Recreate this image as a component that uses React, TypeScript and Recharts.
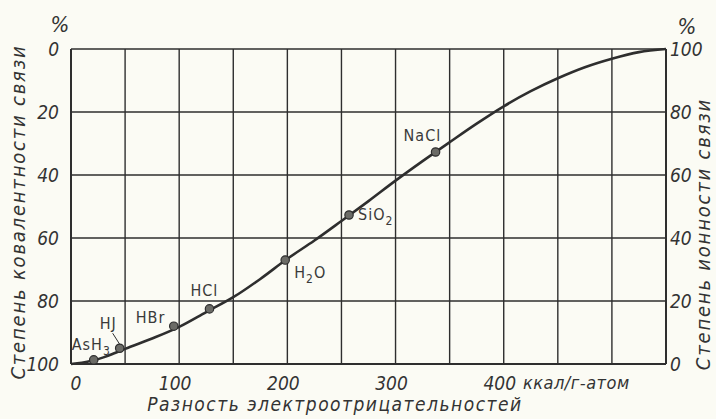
import React from 'react'
import {
  ComposedChart,
  Line,
  Scatter,
  XAxis,
  YAxis,
  CartesianGrid,
} from 'recharts'

// electronegativity difference, kcal/g-atom
const xTicks = [0, 50, 100, 150, 200, 250, 300, 350, 400, 450, 500, 550]
const xLabelTicks = [0, 100, 200, 300, 400]
const yTicks = [0, 20, 40, 60, 80, 100]

// curve: degree of covalent bond, % (left axis)
const curveX = [0, 10, 20, 30, 40, 50, 75, 100, 125, 150, 175, 200, 225, 250, 275, 300, 325, 350, 375, 400, 425, 450, 475, 500, 525, 550]
const curveY = [100, 99.6, 98.9, 97.9, 96.6, 95.2, 91.9, 88.2, 83.5, 78.8, 73, 66.6, 60.8, 54.6, 48.3, 41.8, 35.6, 29.6, 23.7, 18.2, 13.4, 9.3, 5.8, 3.1, 1, 0]

// measured compounds
const compounds = ['AsH3', 'HJ', 'HBr', 'HCl', 'H2O', 'SiO2', 'NaCl']
const compoundX = [21, 45, 95, 128, 198, 257, 337]
const compoundY = [98.7, 95, 88, 82.5, 67, 52.7, 32.7]

const curveData = curveX.map((x, i) => ({ x, y: curveY[i] }))
const pointData = compounds.map((name, i) => ({ name, x: compoundX[i], y: compoundY[i] }))

const ink = '#2e2e2e'
const font = '"DejaVu Sans Condensed", "DejaVu Sans", sans-serif'

// label placement relative to each dot (baseline of text)
const labelOffset: Record<string, { dx: number; dy: number }> = {
  AsH3: { dx: -22, dy: -10 },
  HJ: { dx: -20, dy: -19 },
  HBr: { dx: -38, dy: -3 },
  HCl: { dx: -19, dy: -13 },
  H2O: { dx: 9, dy: 18 },
  SiO2: { dx: 9, dy: 5 },
  NaCl: { dx: -32, dy: -11 },
}

function Formula({ name }: { name: string }) {
  const parts = name.match(/[A-Za-z]+|\d+/g) || []
  return (
    <>
      {parts.map((p, i) =>
        /\d/.test(p) ? (
          <tspan key={i} fontSize={12} dy={5}>{p}</tspan>
        ) : (
          <tspan key={i} dy={i > 0 ? -5 : 0}>{p}</tspan>
        )
      )}
    </>
  )
}

function CompoundDot(props: any) {
  const { cx, cy, payload } = props
  const off = labelOffset[payload.name] || { dx: 6, dy: -6 }
  return (
    <g>
      <circle cx={cx} cy={cy} r={4.2} fill="#6b6b66" stroke={ink} strokeWidth={1.2} />
      {payload.name === 'HJ' && (
        <line x1={cx - 7} y1={cy - 15} x2={cx} y2={cy - 4} stroke={ink} strokeWidth={1} />
      )}
      <text
        x={cx + off.dx}
        y={cy + off.dy}
        fontFamily={font}
        fontSize={16}
        fill="#3a3a3a"
        letterSpacing={1}
      >
        <Formula name={payload.name} />
      </text>
    </g>
  )
}

function LeftTick(props: any) {
  const { x, y, payload } = props
  return (
    <text x={x - 4} y={y + 7} textAnchor="end" fontFamily={font} fontStyle="italic" fontSize={19} fill="#333">
      {payload.value}
    </text>
  )
}

function RightTick(props: any) {
  const { x, y, payload } = props
  return (
    <text x={x - 4} y={y + 7} textAnchor="start" fontFamily={font} fontStyle="italic" fontSize={19} fill="#333">
      {payload.value}
    </text>
  )
}

function BottomTick(props: any) {
  const { x, y, payload } = props
  if (!xLabelTicks.includes(payload.value)) return null
  const shift = payload.value === 0 ? 5 : -4
  return (
    <text x={x + shift} y={y + 18} textAnchor="middle" fontFamily={font} fontStyle="italic" fontSize={19} fill="#333">
      {payload.value}
    </text>
  )
}

export default function App() {
  return (
    <div style={{ position: 'fixed', left: 0, top: 0, width: 716, height: 419, background: '#fbfbf4' }}>
      <ComposedChart
        width={716}
        height={419}
        margin={{ top: 49, right: 10, left: 31, bottom: 25 }}
      >
        <CartesianGrid yAxisId="left" stroke={ink} strokeWidth={1.4} />
        <XAxis
          dataKey="x"
          type="number"
          domain={[0, 550]}
          ticks={xTicks}
          interval={0}
          height={30}
          axisLine={{ stroke: ink, strokeWidth: 2 }}
          tickLine={false}
          tick={<BottomTick />}
        />
        <YAxis
          yAxisId="left"
          dataKey="y"
          type="number"
          domain={[0, 100]}
          reversed
          ticks={yTicks}
          interval={0}
          width={40}
          axisLine={{ stroke: ink, strokeWidth: 2 }}
          tickLine={false}
          tick={<LeftTick />}
        />
        <YAxis
          yAxisId="right"
          orientation="right"
          type="number"
          domain={[0, 100]}
          ticks={yTicks}
          interval={0}
          width={40}
          allowDataOverflow
          axisLine={{ stroke: ink, strokeWidth: 2 }}
          tickLine={false}
          tick={<RightTick />}
        />
        <Line
          yAxisId="left"
          data={curveData}
          dataKey="y"
          type="monotone"
          stroke={ink}
          strokeWidth={2.6}
          dot={false}
          isAnimationActive={false}
        />
        <Scatter
          yAxisId="left"
          data={pointData}
          dataKey="y"
          shape={<CompoundDot />}
          isAnimationActive={false}
        />
        <text x={60} y={32} textAnchor="middle" fontFamily={font} fontStyle="italic" fontSize={22} fill="#333">%</text>
        <text x={687} y={34} textAnchor="middle" fontFamily={font} fontStyle="italic" fontSize={22} fill="#333">%</text>
        <text
          transform="translate(25 212) rotate(-90)"
          textAnchor="middle"
          fontFamily={font}
          fontStyle="italic"
          fontSize={20}
          letterSpacing={1.8}
          fill="#333"
        >
          Степень ковалентности связи
        </text>
        <text
          transform="translate(710 234) rotate(-90)"
          textAnchor="middle"
          fontFamily={font}
          fontStyle="italic"
          fontSize={20}
          letterSpacing={1.8}
          fill="#333"
        >
          Степень ионности связи
        </text>
        <text x={335} y={411} textAnchor="middle" fontFamily={font} fontStyle="italic" fontSize={19} letterSpacing={1.5} fill="#333">
          Разность электроотрицательностей
        </text>
        <text x={523} y={389} fontFamily={font} fontStyle="italic" fontSize={18} fill="#333" letterSpacing={0.5}>
          ккал/г-атом
        </text>
      </ComposedChart>
    </div>
  )
}
